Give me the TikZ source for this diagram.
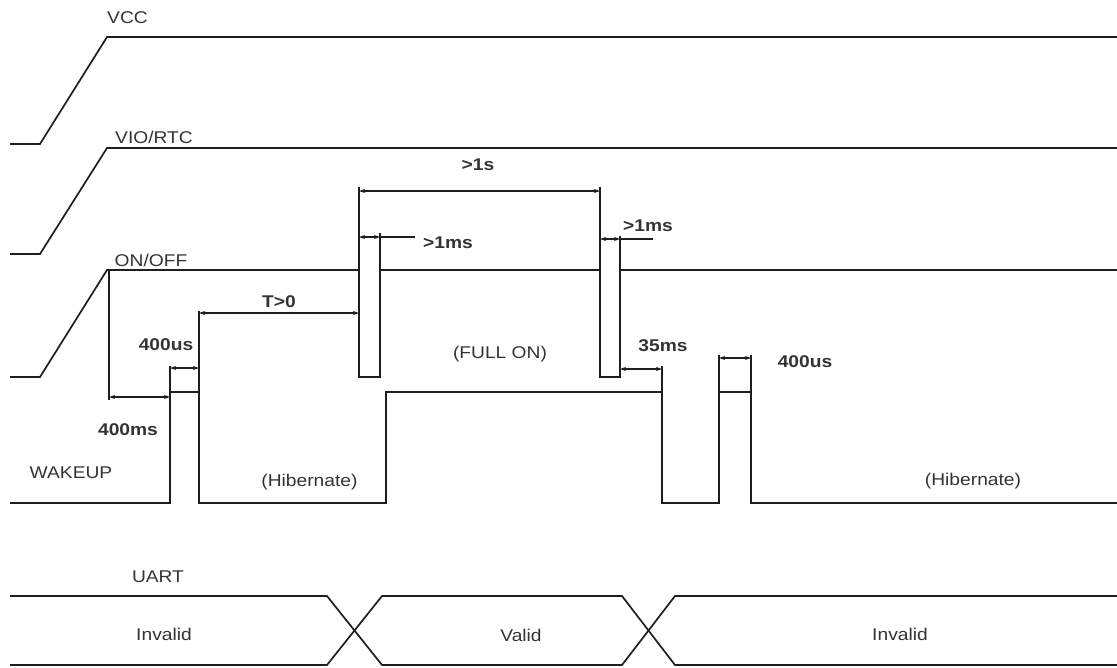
\documentclass[tikz,border=0pt]{standalone}
\usepackage{fontspec}
\setmainfont{Liberation Sans}[FakeStretch=1.13]
\usetikzlibrary{arrows.meta}
\definecolor{ink}{HTML}{1E1E1E}
\definecolor{txt}{HTML}{333333}
\tikzset{
  sig/.style={draw=ink, line width=1.7pt, line join=miter},
  ext/.style={draw=ink, line width=1.4pt},
  dim/.style={draw=ink, line width=1.4pt, {Stealth[length=6pt,width=4pt]}-{Stealth[length=6pt,width=4pt]}},
  lbl/.style={anchor=base, inner sep=0pt, text=txt, font=\fontsize{17pt}{19pt}\selectfont},
  tlbl/.style={lbl, font=\fontsize{17pt}{19pt}\selectfont\bfseries},
}
\begin{document}
\begin{tikzpicture}[x=1pt,y=-1pt]
\useasboundingbox (0,0) rectangle (1117,667);
% signal names
\node[lbl] (vcc) at (127.5,23) {VCC};
\node[lbl] (vio) at (154,143) {VIO/RTC};
\node[lbl] (onoff) at (151,266) {ON/OFF};
\node[lbl] (wake) at (71,478) {WAKEUP};
\node[lbl] (uart) at (158,582) {UART};
% VCC
\draw[sig] (10,144) -- (40,144) -- (107,37) -- (1117,37);
% VIO/RTC
\draw[sig] (10,254) -- (40,254) -- (107,148) -- (1117,148);
% ON/OFF
\draw[sig] (10,377) -- (40,377) -- (107,270) -- (359,270);
\draw[sig] (359,187) -- (359,377) -- (380,377) -- (380,233);
\draw[sig] (380,270) -- (600,270);
\draw[sig] (600,187) -- (600,377) -- (620,377) -- (620,236);
\draw[sig] (620,270) -- (1117,270);
% WAKEUP
\draw[sig] (10,503) -- (170,503) -- (170,392) -- (199,392) -- (199,503) -- (386,503)
  -- (386,392) -- (662,392) -- (662,503) -- (719,503) -- (719,392) -- (751,392)
  -- (751,503) -- (1117,503);
% extension lines
\draw[ext] (109,270) -- (109,400);
\draw[ext] (170,392) -- (170,366);
\draw[ext] (199,392) -- (199,311);
\draw[ext] (662,392) -- (662,366);
\draw[ext] (719,392) -- (719,355);
\draw[ext] (751,392) -- (751,355);
% coordinates of dimension ends
\coordinate (d1a) at (109,397); \coordinate (d1b) at (170,397);
\coordinate (d2a) at (170,368); \coordinate (d2b) at (199,368);
\coordinate (d3a) at (199,313); \coordinate (d3b) at (359,313);
\coordinate (d4a) at (359,191); \coordinate (d4b) at (600,191);
\coordinate (d5a) at (359,237); \coordinate (d5b) at (380,237); \coordinate (d5c) at (415,237);
\coordinate (d6a) at (600,239); \coordinate (d6b) at (620,239); \coordinate (d6c) at (653,239);
\coordinate (d7a) at (620,369); \coordinate (d7b) at (662,369);
\coordinate (d8a) at (719,358); \coordinate (d8b) at (751,358);
\draw[dim] (d1a) -- (d1b);
\draw[dim] (d2a) -- (d2b);
\draw[dim] (d3a) -- (d3b);
\draw[dim] (d4a) -- (d4b);
\draw[dim] (d5a) -- (d5b); \draw[ext] (d5b) -- (d5c);
\draw[dim] (d6a) -- (d6b); \draw[ext] (d6b) -- (d6c);
\draw[dim] (d7a) -- (d7b);
\draw[dim] (d8a) -- (d8b);
% timing labels
\node[tlbl] (t400ms) at (128,435) {400ms};
\node[tlbl] (t400us) at (166,350) {400us};
\node[tlbl] (tT) at (279,307) {T>0};
\node[tlbl] (t1s) at (478,170) {>1s};
\node[tlbl] (t1ms) at (448,248) {>1ms};
\node[tlbl] (t1msb) at (648,231) {>1ms};
\node[tlbl] (t35) at (663,351) {35ms};
\node[tlbl] (t400usb) at (805,367) {400us};
% state labels
\node[lbl] (full) at (500,358) {(FULL ON)};
\node[lbl] (hib1) at (309.5,486) {(Hibernate)};
\node[lbl] (hib2) at (973,485) {(Hibernate)};
% UART
\draw[sig] (10,596) -- (327,596) -- (382,665) -- (622,665) -- (675,596) -- (1117,596);
\draw[sig] (10,665) -- (327,665) -- (382,596) -- (622,596) -- (675,665) -- (1117,665);
\node[lbl] (inv1) at (164,640) {Invalid};
\node[lbl] (val) at (521,641) {Valid};
\node[lbl] (inv2) at (900,640) {Invalid};
\end{tikzpicture}
\end{document}
